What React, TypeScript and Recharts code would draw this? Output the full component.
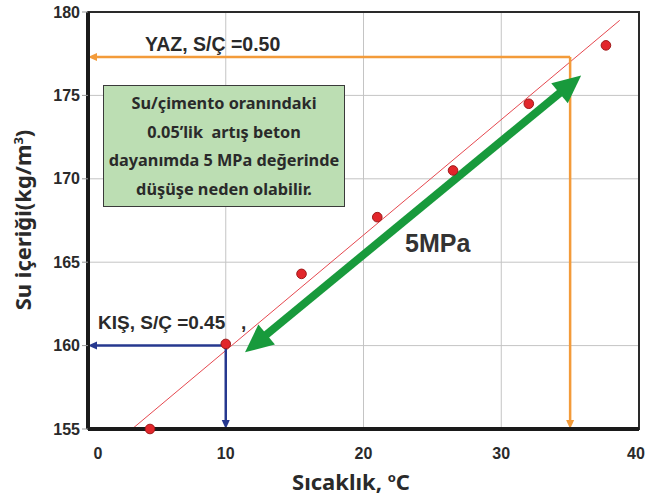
import React from "react";
import {
  CartesianGrid,
  ReferenceArea,
  ReferenceLine,
  Scatter,
  ScatterChart,
  XAxis,
  YAxis,
} from "recharts";

// measured points: temperature (°C) vs water content (kg/m3)
const temps = [4.5, 10, 15.5, 21, 26.5, 32, 37.6];
const waterContent = [155, 160.1, 164.3, 167.7, 170.5, 174.5, 178];

const xTicks = [0, 10, 20, 30, 40];
const yTicks = [155, 160, 165, 170, 175, 180];

// fitted trend line ends
const trendStart = { x: 3.2, y: 155 };
const trendEnd = { x: 38.6, y: 179.5 };

// summer / winter read-off points
const summer = { x: 35, y: 177.3 };
const winter = { x: 10, y: 160 };

// 5 MPa double arrow ends
const mpaStart = { x: 11.4, y: 159.6 };
const mpaEnd = { x: 35.8, y: 176.2 };

const points = temps.map((t, i) => ({ x: t, y: waterContent[i] }));

const ORANGE = "#f39b3a";
const BLUE = "#26388f";
const GREEN = "#189a3c";
const RED = "#e5484f";
const TEXT = "#2a2a2a";

type Head = { len: number; half: number };

const arrowShape =
  (color: string, width: number, head: Head, atStart: boolean, atEnd: boolean) =>
  (p: any) => {
    const { x1, y1, x2, y2 } = p;
    const dx = x2 - x1;
    const dy = y2 - y1;
    const len = Math.hypot(dx, dy) || 1;
    const ux = dx / len;
    const uy = dy / len;
    const nx = -uy;
    const ny = ux;
    const tri = (tx: number, ty: number, dir: number) => {
      const bx = tx - dir * ux * head.len;
      const by = ty - dir * uy * head.len;
      return `${tx},${ty} ${bx + nx * head.half},${by + ny * head.half} ${
        bx - nx * head.half
      },${by - ny * head.half}`;
    };
    const sx = atStart ? x1 + ux * head.len * 0.8 : x1;
    const sy = atStart ? y1 + uy * head.len * 0.8 : y1;
    const ex = atEnd ? x2 - ux * head.len * 0.8 : x2;
    const ey = atEnd ? y2 - uy * head.len * 0.8 : y2;
    return (
      <g>
        <line x1={sx} y1={sy} x2={ex} y2={ey} stroke={color} strokeWidth={width} />
        {atStart && <polygon points={tri(x1, y1, -1)} fill={color} />}
        {atEnd && <polygon points={tri(x2, y2, 1)} fill={color} />}
      </g>
    );
  };

const smallHead = { len: 9, half: 4 };

const XTick = (p: any) => (
  <text
    x={p.x + (p.payload.value === 0 ? 10 : p.payload.value === 40 ? -3 : 0)}
    y={p.y}
    dy="0.71em"
    textAnchor="middle"
    fill={TEXT}
    fontSize={16}
    fontWeight="bold"
    fontFamily="'Liberation Sans', Arial, sans-serif"
  >
    {p.payload.value}
  </text>
);

const tickStyle = {
  fill: TEXT,
  fontSize: 16,
  fontWeight: "bold",
  fontFamily: "'Liberation Sans', Arial, sans-serif",
};

const note = {
  position: "absolute" as const,
  fontFamily: "'Liberation Sans', Arial, sans-serif",
  fontWeight: "bold" as const,
  color: TEXT,
  whiteSpace: "nowrap" as const,
  lineHeight: 1,
};

export default function App() {
  return (
    <div
      style={{
        position: "absolute",
        left: 0,
        top: 0,
        width: 649,
        height: 497,
        background: "#fff",
      }}
    >
      <ScatterChart
        width={649}
        height={497}
        margin={{ top: 12, right: 10, bottom: 38, left: 0 }}
      >
        <CartesianGrid stroke="#c4c4c4" strokeWidth={1} />
        <XAxis
          type="number"
          dataKey="x"
          domain={[0, 40]}
          ticks={xTicks}
          height={30}
          tickLine={false}
          tickSize={0}
          tickMargin={19}
          tick={<XTick />}
          axisLine={{ stroke: "#1a1a1a", strokeWidth: 4 }}
        />
        <YAxis
          type="number"
          dataKey="y"
          domain={[155, 180]}
          ticks={yTicks}
          width={88}
          tickSize={6}
          tickMargin={2}
          tickLine={{ stroke: "#999" }}
          tick={tickStyle}
          axisLine={{ stroke: "#1a1a1a", strokeWidth: 4 }}
        />
        <ReferenceArea
          x1={0}
          x2={40}
          y1={155}
          y2={180}
          fill="none"
          stroke="#2a2a2a"
          strokeWidth={2}
        />
        <ReferenceLine
          segment={[trendStart, trendEnd]}
          stroke={RED}
          strokeWidth={1}
        />
        <ReferenceLine
          segment={[summer, { x: 0, y: summer.y }]}
          shape={arrowShape(ORANGE, 2.5, smallHead, false, true)}
        />
        <ReferenceLine
          segment={[summer, { x: summer.x, y: 155 }]}
          shape={arrowShape(ORANGE, 2.5, smallHead, false, true)}
        />
        <ReferenceLine
          segment={[winter, { x: 0, y: winter.y }]}
          shape={arrowShape(BLUE, 2.5, smallHead, false, true)}
        />
        <ReferenceLine
          segment={[winter, { x: winter.x, y: 155 }]}
          shape={arrowShape(BLUE, 2.5, smallHead, false, true)}
        />
        <ReferenceLine
          segment={[mpaStart, mpaEnd]}
          shape={arrowShape(GREEN, 8, { len: 28, half: 13 }, true, true)}
        />
        <Scatter
          data={points}
          isAnimationActive={false}
          shape={(p: any) => (
            <circle cx={p.cx} cy={p.cy} r={4.8} fill="#e2262b" stroke="#9e1a1a" strokeWidth={1} />
          )}
        />
      </ScatterChart>

      <div style={{ ...note, left: 145, top: 35, fontSize: 19.5 }}>YAZ, S/Ç =0.50</div>
      <div style={{ ...note, left: 98, top: 313, fontSize: 19 }}>
        KIŞ, S/Ç =0.45&nbsp;&nbsp;&nbsp;,
      </div>
      <div style={{ ...note, left: 405, top: 231, fontSize: 25, color: "#333" }}>5MPa</div>

      <div
        style={{
          position: "absolute",
          left: 103,
          top: 85,
          width: 240,
          height: 120,
          background: "#bcdeb3",
          border: "1.5px solid #3a3a3a",
          display: "flex",
          flexDirection: "column",
          justifyContent: "center",
          alignItems: "center",
          fontFamily: "'Noto Sans', 'Open Sans', sans-serif",
          fontWeight: "bold",
          fontSize: 16.3,
          lineHeight: "28.5px",
          color: TEXT,
          textAlign: "center",
        }}
      >
        <div>Su/çimento oranındaki</div>
        <div>0.05’lik&nbsp; artış beton</div>
        <div>dayanımda 5 MPa değerinde</div>
        <div>düşüşe neden olabilir.</div>
      </div>

      <div
        style={{
          position: "absolute",
          left: 22,
          top: 220,
          transform: "translate(-50%, -50%) rotate(-90deg)",
          fontFamily: "'Noto Sans', 'Open Sans', sans-serif",
          fontWeight: "bold",
          fontSize: 22,
          color: TEXT,
          whiteSpace: "nowrap",
        }}
      >
        Su içeriği(kg/m<sup style={{ fontSize: 13 }}>3</sup>)
      </div>
      <div
        style={{
          position: "absolute",
          left: 351,
          top: 481,
          transform: "translate(-50%, -50%)",
          fontFamily: "'Noto Sans', 'Open Sans', sans-serif",
          fontWeight: "bold",
          fontSize: 22,
          color: TEXT,
          whiteSpace: "nowrap",
        }}
      >
        Sıcaklık, <sup style={{ fontSize: 13 }}>o</sup>C
      </div>
    </div>
  );
}
